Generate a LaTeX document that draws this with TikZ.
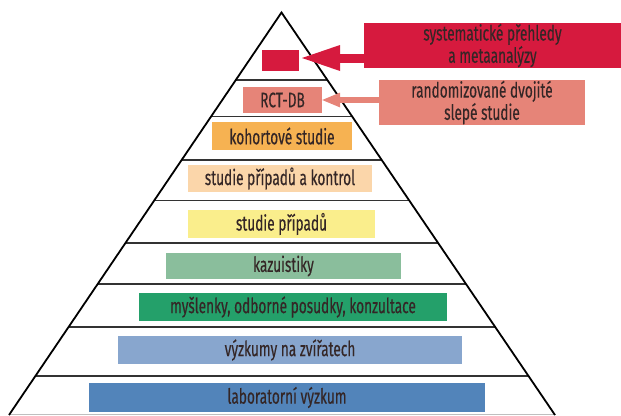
\documentclass[tikz,border=0pt]{standalone}
\usepackage{fontspec}
\setmainfont{Fira Sans}[FakeStretch=0.65, FakeBold=0.3]
\usetikzlibrary{arrows.meta}
\definecolor{srred}{RGB}{214,26,62}
\definecolor{rctpink}{RGB}{230,132,120}
\definecolor{cohorange}{RGB}{246,178,82}
\definecolor{ccpeach}{RGB}{251,214,170}
\definecolor{caseyellow}{RGB}{250,238,140}
\definecolor{kazsage}{RGB}{138,190,156}
\definecolor{ideagreen}{RGB}{36,160,106}
\definecolor{animalblue}{RGB}{136,166,206}
\definecolor{labblue}{RGB}{82,132,186}
\definecolor{textdark}{RGB}{52,38,38}
\newcommand{\lvlfont}{\fontsize{21}{18.5}\selectfont}

\begin{document}
\begin{tikzpicture}[x=1pt, y=-1pt,
    pyr/.style={draw=black, line width=1.8pt, line join=miter},
    sep/.style={draw=black!80, line width=1.6pt},
    lvl/.style={inner sep=0pt, font=\lvlfont, text=textdark},
    side/.style={inner sep=0pt, align=center, font=\lvlfont, text=textdark},
    bigarr/.style={-{Triangle[length=38pt, width=26pt, line width=0pt]}, line width=9pt, srred},
    smallarr/.style={-{Triangle[length=18pt, width=15pt, line width=0pt]}, line width=6pt, rctpink}
  ]
  \useasboundingbox (0,0) rectangle (621,415);

  % ===== pyramid outline and tier lines =====
  \draw[black!25, line width=0.8pt] (9,414) -- (555,414);
  \begin{scope}
    \clip (9,415) -- (281.5,12.5) -- (555,415) -- cycle;
    \foreach \ty in {80,116.5,160,200.5,243,284,327,376}
      \draw[sep] (0,\ty) -- (621,\ty);
  \end{scope}
  \draw[pyr] (9,415) -- (281.5,12.5) -- (555,415);

  % ===== levels, top to bottom =====
  \node[lvl, fill=srred, minimum width=37pt, minimum height=21.5pt] (top) at (280.5,60.25) {};
  \node[lvl, fill=rctpink, minimum width=79pt, minimum height=26pt] (rct) at (282.5,100) {RCT-DB};
  \node[lvl, fill=cohorange, minimum width=140pt, minimum height=28pt] (coh) at (282,136) {kohortové studie};
  \node[lvl, fill=ccpeach, minimum width=184pt, minimum height=27pt] (cc) at (280,178.5) {studie případů a kontrol};
  \node[lvl, fill=caseyellow, minimum width=187pt, minimum height=28pt] (cases) at (281.5,224) {studie případů};
  \node[lvl, fill=kazsage, minimum width=235pt, minimum height=26.6pt] (kaz) at (283.5,266) {kazuistiky};
  \node[lvl, fill=ideagreen, minimum width=308pt, minimum height=28.3pt] (ideas) at (293,307) {myšlenky, odborné posudky, konzultace};
  \node[lvl, fill=animalblue, minimum width=344pt, minimum height=28pt] (animal) at (290,350) {výzkumy na zvířatech};
  \node[lvl, fill=labblue, minimum width=396pt, minimum height=29pt] (lab) at (287,397.5) {laboratorní výzkum};

  % ===== side labels with arrows =====
  \node[side, fill=srred, minimum width=257pt, minimum height=45pt] (sr) at (492.5,45.5)
    {systematické přehledy\\a metaanalýzy};
  \node[side, fill=rctpink, minimum width=206pt, minimum height=45pt] (rdb) at (482,102.5)
    {randomizované dvojité\\slepé studie};
  \coordinate (toptip) at (302,58);
  \draw[bigarr] (sr.west |- toptip) -- (toptip);
  \draw[smallarr] (rdb.west |- rct.east) -- (rct.east);
\end{tikzpicture}
\end{document}
